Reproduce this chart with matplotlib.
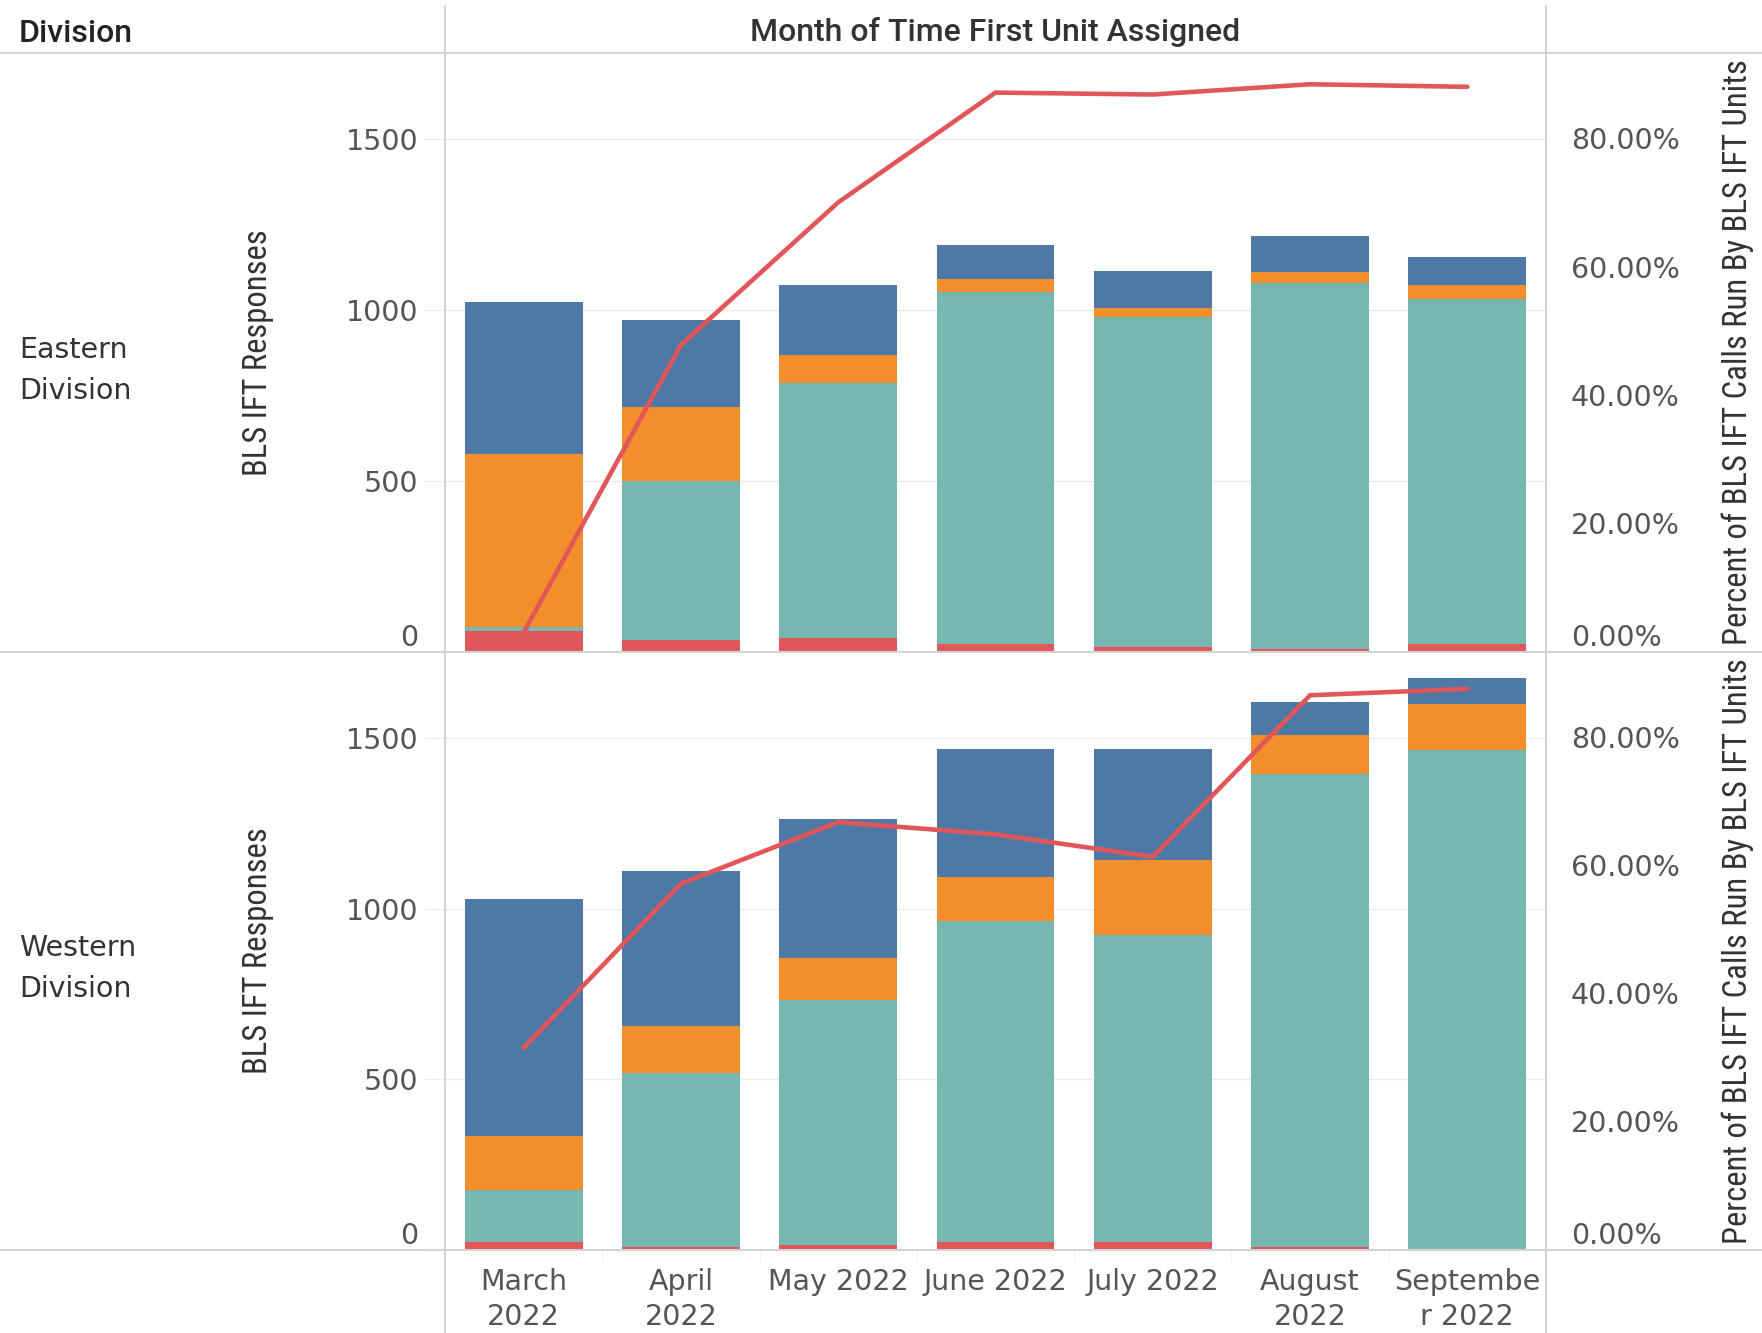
import matplotlib
matplotlib.use("Agg")
import matplotlib.pyplot as plt
from matplotlib.lines import Line2D

# x categories and row headers
months = ["March\n2022", "April\n2022", "May 2022", "June 2022", "July 2022",
          "August\n2022", "Septembe\nr 2022"]
divisions = ["Eastern\nDivision", "Western\nDivision"]

# stacked segments, bottom to top (red, teal, orange, blue)
east_red = [60, 34, 41, 22, 14, 8, 22]
east_teal = [13, 466, 745, 1031, 966, 1071, 1011]
east_orange = [506, 217, 82, 39, 27, 33, 39]
east_blue = [444, 253, 204, 99, 108, 105, 83]
east_pct = [3.0, 47.8, 70.0, 87.1, 86.8, 88.4, 88.0]

west_red = [21, 8, 14, 21, 21, 8, 0]
west_teal = [154, 510, 718, 942, 902, 1387, 1464]
west_orange = [158, 138, 122, 128, 218, 115, 135]
west_blue = [696, 455, 409, 376, 326, 96, 76]
west_pct = [31.5, 57.1, 66.7, 64.8, 61.3, 86.5, 87.5]

left_ticks = [0, 500, 1000, 1500]
right_ticks = [0, 20, 40, 60, 80]

RED = "#E15759"
TEAL = "#76B7B2"
ORANGE = "#F28E2B"
BLUE = "#4E79A7"
BORDER = "#d4d4d4"
GRID = "#ececec"
TICK_COL = "#555555"
NARROW = ["Liberation Sans Narrow", "Roboto Condensed", "Roboto"]
TICK_SIZE = 20.5

W, H = 1762, 1333
fig = plt.figure(figsize=(W / 100, H / 100), dpi=100)

x0, x1 = 445 / W, 1546 / W
panels = [(52.8, 651.7), (651.7, 1249.6)]


def draw_panel(top_px, bot_px, segs, pct, label, show_x):
    ax = fig.add_axes([x0, 1 - bot_px / H, x1 - x0, (bot_px - top_px) / H])
    x = list(range(len(months)))
    bottom = [0] * len(months)
    for vals, col in segs:
        ax.bar(x, vals, width=0.75, bottom=bottom, color=col, zorder=2)
        bottom = [b + v for b, v in zip(bottom, vals)]
    ax.set_xlim(-0.5, len(months) - 0.5)
    ax.set_ylim(0, 1753)
    ax.set_yticks(left_ticks)
    ax.set_yticklabels([str(t) for t in left_ticks])
    ax.grid(axis="y", color=GRID, linewidth=1, zorder=0)
    ax.tick_params(axis="y", length=15, color=GRID, pad=4,
                   labelsize=TICK_SIZE, labelcolor=TICK_COL)
    for s in ax.spines.values():
        s.set_visible(False)
    ax.get_yticklabels()[0].set_verticalalignment("bottom")
    ax.set_ylabel("BLS IFT Responses", family=NARROW, fontsize=23.5,
                  color="#333333", labelpad=52)

    if show_x:
        ax.set_xticks(x)
        ax.set_xticklabels(months, linespacing=1.35)
        ax.tick_params(axis="x", length=0, pad=13, labelsize=TICK_SIZE,
                       labelcolor=TICK_COL)
        ax.set_xticks([i + 0.5 for i in x[:-1]], minor=True)
        ax.tick_params(axis="x", which="minor", length=8, color="#eeeeee")
    else:
        ax.set_xticks([])

    ax2 = ax.twinx()
    ax2.plot(x, pct, color=RED, linewidth=3.3, solid_capstyle="round", zorder=5)
    ax2.set_ylim(0, 93.3)
    ax2.set_yticks(right_ticks)
    ax2.set_yticklabels([f"{t:.2f}%" for t in right_ticks])
    ax2.tick_params(axis="y", length=0, pad=18, labelsize=TICK_SIZE,
                    labelcolor=TICK_COL)
    ax2.get_yticklabels()[0].set_verticalalignment("bottom")
    for s in ax2.spines.values():
        s.set_visible(False)
    ax2.set_ylabel("Percent of BLS IFT Calls Run By BLS IFT Units",
                   family=NARROW, fontsize=23.5, color="#333333", labelpad=30)

    mid = 1 - ((top_px + bot_px) / 2 + 18) / H
    fig.text(19 / W, mid, label, fontsize=TICK_SIZE, color="#333333",
             va="center", ha="left", linespacing=1.6)
    return ax


draw_panel(*panels[0],
           [(east_red, RED), (east_teal, TEAL), (east_orange, ORANGE), (east_blue, BLUE)],
           east_pct, divisions[0], False)
draw_panel(*panels[1],
           [(west_red, RED), (west_teal, TEAL), (west_orange, ORANGE), (west_blue, BLUE)],
           west_pct, divisions[1], True)

# headers
fig.text(19 / W, 1 - 34 / H, "Division", family=["Roboto"], fontsize=23,
         fontweight="medium", color="#222222", va="center", ha="left")
fig.text((x0 + x1) / 2, 1 - 32 / H, "Month of Time First Unit Assigned",
         family=["Roboto"], fontsize=23, fontweight="medium", color="#333333",
         va="center", ha="center")

# table borders
for yp in [52.8, 651.7, 1249.6]:
    fig.add_artist(Line2D([0, 1], [1 - yp / H] * 2, color=BORDER, linewidth=1.5))
for xp in [445, 1546]:
    fig.add_artist(Line2D([xp / W] * 2, [0, 1 - 6 / H], color=BORDER, linewidth=1.5))

fig.savefig("out.png", dpi=100)
